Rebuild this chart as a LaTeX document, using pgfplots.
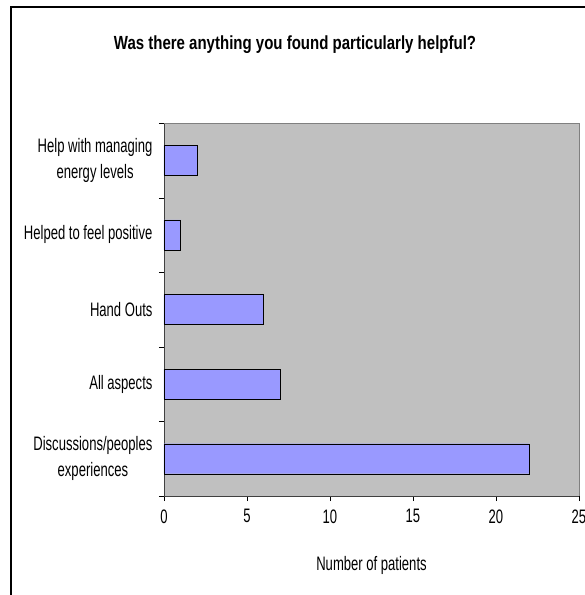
\documentclass[border=0pt]{standalone}
\usepackage{fontspec}
\setmainfont{Liberation Sans}[FakeStretch=0.67]
\newfontfamily\titlefont{Liberation Sans}[FakeStretch=0.79]
\usepackage{pgfplots}
\pgfplotsset{compat=1.18}
\definecolor{plotbg}{HTML}{C0C0C0}
\definecolor{barfill}{HTML}{9999FF}
\begin{document}
\begin{tikzpicture}[x=1pt,y=1pt]
  \useasboundingbox (-164,-99) rectangle (421,496);
  \draw[line width=2pt] (-153,-130) rectangle (440,489);
  \node[font=\titlefont\bfseries\fontsize{19}{22}\selectfont] at (131,451) {Was there anything you found particularly helpful?};
  \begin{axis}[
      at={(0,0)}, anchor=south west,
      scale only axis, width=415pt, height=373pt,
      xbar, bar width=30pt,
      xmin=0, xmax=25, ymin=-0.5, ymax=4.5,
      xtick={0,5,...,25},
      ytick={-0.5,0.5,...,4.5},
      y tick label as interval,
      yticklabels={{Discussions/peoples\\experiences},{All aspects},{Hand Outs},{Helped to feel positive},{Help with managing\\energy levels}},
      y tick label style={align=center, font=\fontsize{19.5}{26}\selectfont, xshift=-3pt},
      x tick label style={font=\fontsize{19.5}{22}\selectfont, yshift=-5pt},
      tick style={black},
      tick align=outside,
      major tick length=5pt,
      xtick pos=bottom, ytick pos=left,
      /pgf/number format/assume math mode=true,
      xlabel={Number of patients},
      xlabel style={font=\fontsize{19.5}{22}\selectfont, yshift=-26pt},
      axis background/.style={fill=plotbg},
      axis line style={draw=black!75},
      axis x line*=bottom, axis y line*=left,
      clip=false,
    ]
    \draw[draw=black!50] (axis cs:0,4.5) -- (axis cs:25,4.5) -- (axis cs:25,-0.5);
    \addplot[fill=barfill, draw=black] coordinates {
      (22,0) (7,1) (6,2) (1,3) (2,4)
    };
  \end{axis}
\end{tikzpicture}
\end{document}
